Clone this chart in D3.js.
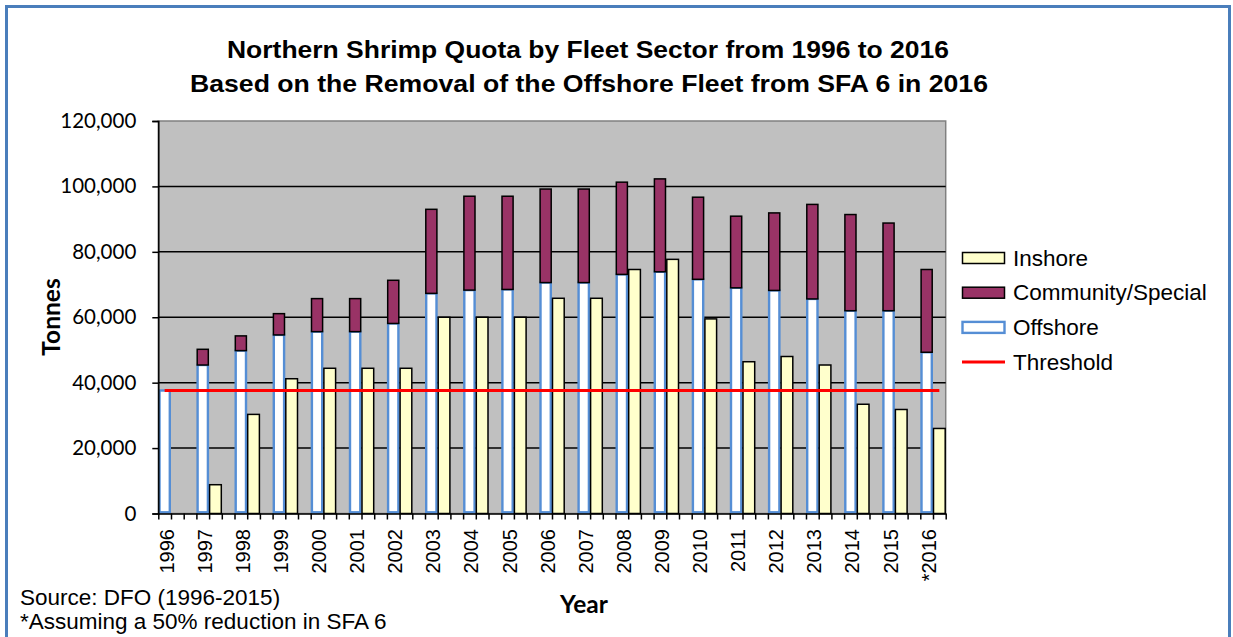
<!DOCTYPE html>
<html lang="en">
<head>
<meta charset="utf-8">
<title>Northern Shrimp Quota by Fleet Sector</title>
<script src="https://cdn.jsdelivr.net/npm/d3@7"></script>
<style>
  body { margin: 0; background: #fff; }
  .tick text { fill: #000; }
</style>
</head>
<body>
<script>
// data (tonnes)
var years = ["1996", "1997", "1998", "1999", "2000", "2001", "2002", "2003", "2004", "2005", "2006",
             "2007", "2008", "2009", "2010", "2011", "2012", "2013", "2014", "2015", "*2016"];
var offshore = [37600, 45400, 49800, 54600, 55600, 55600, 58100, 67300, 68300, 68500, 70600,
                70600, 73100, 73900, 71600, 69000, 68200, 65600, 62000, 62000, 49300];
var community = [0, 4800, 4500, 6500, 10100, 10100, 13200, 25700, 28700, 28500, 28600,
                 28600, 28200, 28400, 25100, 21900, 23700, 28900, 29400, 26800, 25300];
var inshore = [0, 8800, 30300, 41200, 44400, 44400, 44400, 60000, 60000, 60000, 65800,
               65800, 74600, 77700, 59500, 46400, 48000, 45400, 33400, 31800, 26000];
var threshold = 37600;
var yTicks = [0, 20000, 40000, 60000, 80000, 100000, 120000];
var legendNames = ["Inshore", "Community/Special", "Offshore", "Threshold"];

var W = 1233, H = 637;
var plot = {left: 158.3, right: 945.7, top: 121, bottom: 513.5};
var colInshore = "#FFFFCC", colComm = "#993366", colOff = "#558ED5", colThr = "#FF0000";

// each year has 3 slots: offshore stack, inshore, empty gap (no gap after the last year)
var slots = [];
years.forEach(function(yr, i) {
	slots.push(yr + "|off", yr + "|in");
	if (i < years.length - 1) slots.push(yr + "|gap");
});

var x = d3.scaleBand().domain(slots).range([plot.left, plot.right]).padding(0);
var xTick = d3.scaleLinear().domain([0, slots.length]).range([plot.left, plot.right]);
var y = d3.scaleLinear().domain([0, 120000]).range([plot.bottom, plot.top]);
var bw = x.bandwidth();

var svg = d3.select("body").append("svg")
	.attr("width", W)
	.attr("height", H)
	.style("display", "block")
	.style("font-family", "'Liberation Sans', Arial, sans-serif");

// outer frame
svg.append("rect")
	.attr("x", 6.5).attr("y", 6.5)
	.attr("width", 1223).attr("height", 660)
	.attr("fill", "#fff")
	.attr("stroke", "#4A7EBB")
	.attr("stroke-width", 3);

// plot area
svg.append("rect")
	.attr("x", plot.left).attr("y", plot.top)
	.attr("width", plot.right - plot.left).attr("height", plot.bottom - plot.top)
	.attr("fill", "#C0C0C0")
	.attr("stroke", "#808080")
	.attr("stroke-width", 1.5);

svg.append("g")
	.selectAll("line")
	.data(yTicks.filter(function(d) { return d > 0 && d < 120000; }))
	.enter().append("line")
	.attr("x1", plot.left).attr("x2", plot.right)
	.attr("y1", function(d) { return y(d); })
	.attr("y2", function(d) { return y(d); })
	.attr("stroke", "#000")
	.attr("stroke-width", 1.5);

// bars
var bars = svg.append("g");
bars.selectAll(".off")
	.data(years)
	.enter().append("rect")
	.attr("class", "off")
	.attr("x", function(d) { return x(d + "|off") + 1.2; })
	.attr("width", bw - 2.4)
	.attr("y", function(d, i) { return y(offshore[i]); })
	.attr("height", function(d, i) { return y(0) - y(offshore[i]) - 1.2; })
	.attr("fill", "#fff")
	.attr("stroke", colOff)
	.attr("stroke-width", 2.4);

bars.selectAll(".comm")
	.data(years.filter(function(d, i) { return community[i] > 0; }))
	.enter().append("rect")
	.attr("class", "comm")
	.attr("x", function(d) { return x(d + "|off") + 0.8; })
	.attr("width", bw - 1.6)
	.attr("y", function(d) { var i = years.indexOf(d); return y(offshore[i] + community[i]); })
	.attr("height", function(d) { var i = years.indexOf(d); return y(offshore[i]) - y(offshore[i] + community[i]); })
	.attr("fill", colComm)
	.attr("stroke", "#000")
	.attr("stroke-width", 1.5);

bars.selectAll(".ins")
	.data(years.filter(function(d, i) { return inshore[i] > 0; }))
	.enter().append("rect")
	.attr("class", "ins")
	.attr("x", function(d) { return x(d + "|in") + 0.5; })
	.attr("width", bw - 1)
	.attr("y", function(d) { return y(inshore[years.indexOf(d)]); })
	.attr("height", function(d) { return y(0) - y(inshore[years.indexOf(d)]); })
	.attr("fill", colInshore)
	.attr("stroke", "#000")
	.attr("stroke-width", 1.5);

// threshold line across all slots
svg.append("line")
	.attr("x1", x(slots[0]) + bw / 2)
	.attr("x2", x(slots[slots.length - 1]) + bw / 2)
	.attr("y1", y(threshold))
	.attr("y2", y(threshold))
	.attr("stroke", colThr)
	.attr("stroke-width", 3);

// axes
var yAxis = svg.append("g")
	.attr("transform", "translate(" + plot.left + ",0)")
	.call(d3.axisLeft(y).tickValues(yTicks).tickFormat(d3.format(",")).tickSize(6).tickPadding(16));
yAxis.selectAll("text")
	.style("font-family", "Lato, sans-serif")
	.style("font-size", "20.5px");
yAxis.selectAll("line, path").attr("stroke", "#000").attr("stroke-width", 1.5);

var xAxis = svg.append("g")
	.attr("transform", "translate(0," + plot.bottom + ")")
	.call(d3.axisBottom(xTick).tickValues(d3.range(slots.length + 1)).tickFormat("").tickSize(6).tickSizeOuter(0));
xAxis.selectAll("line, path").attr("stroke", "#000").attr("stroke-width", 1.5);

svg.append("g")
	.selectAll("text")
	.data(years)
	.enter().append("text")
	.attr("transform", function(d) {
		return "translate(" + (x(d + "|off") + bw / 2 + 2) + ",529) rotate(-90)";
	})
	.attr("text-anchor", "end")
	.attr("dominant-baseline", "central")
	.style("font-size", "20px")
	.text(function(d) { return d; });

// titles
var title = svg.append("text")
	.attr("text-anchor", "middle")
	.style("font-size", "24px")
	.style("font-weight", "bold");
title.append("tspan").attr("x", 588).attr("y", 58)
	.attr("textLength", 722).attr("lengthAdjust", "spacingAndGlyphs")
	.text("Northern Shrimp Quota by Fleet Sector from 1996 to 2016");
title.append("tspan").attr("x", 589).attr("y", 92)
	.attr("textLength", 798).attr("lengthAdjust", "spacingAndGlyphs")
	.text("Based on the Removal of the Offshore Fleet from SFA 6 in 2016");

svg.append("text")
	.attr("transform", "translate(50,317) rotate(-90)")
	.attr("text-anchor", "middle")
	.attr("dominant-baseline", "central")
	.style("font-family", "Lato, sans-serif")
	.style("font-size", "24.5px")
	.style("font-weight", "bold")
	.text("Tonnes");

svg.append("text")
	.attr("x", 584)
	.attr("y", 613)
	.attr("text-anchor", "middle")
	.style("font-family", "Lato, sans-serif")
	.style("font-size", "24.5px")
	.style("font-weight", "bold")
	.text("Year");

svg.append("text")
	.attr("x", 20).attr("y", 605)
	.style("font-size", "22.5px")
	.text("Source:  DFO (1996-2015)");
svg.append("text")
	.attr("x", 20).attr("y", 629)
	.style("font-size", "22.5px")
	.text("*Assuming a 50% reduction in SFA 6");

// legend
var legend = svg.append("g")
	.selectAll("g")
	.data(legendNames)
	.enter().append("g")
	.attr("transform", function(d, i) { return "translate(962," + (258 + i * 34.7) + ")"; });

legend.each(function(d, i) {
	var g = d3.select(this);
	if (i === 3) {
		g.append("line").attr("x1", 0).attr("x2", 43).attr("y1", 0).attr("y2", 0)
			.attr("stroke", colThr).attr("stroke-width", 3);
	} else {
		g.append("rect")
			.attr("x", 0.5).attr("y", -5.5).attr("width", 42).attr("height", 11)
			.attr("fill", [colInshore, colComm, "#fff"][i])
			.attr("stroke", i === 2 ? colOff : "#000")
			.attr("stroke-width", i === 2 ? 2.4 : 1.5);
	}
	g.append("text")
		.attr("x", 51)
		.attr("dominant-baseline", "central")
		.style("font-size", "22.5px")
		.text(d);
});
</script>
</body>
</html>
